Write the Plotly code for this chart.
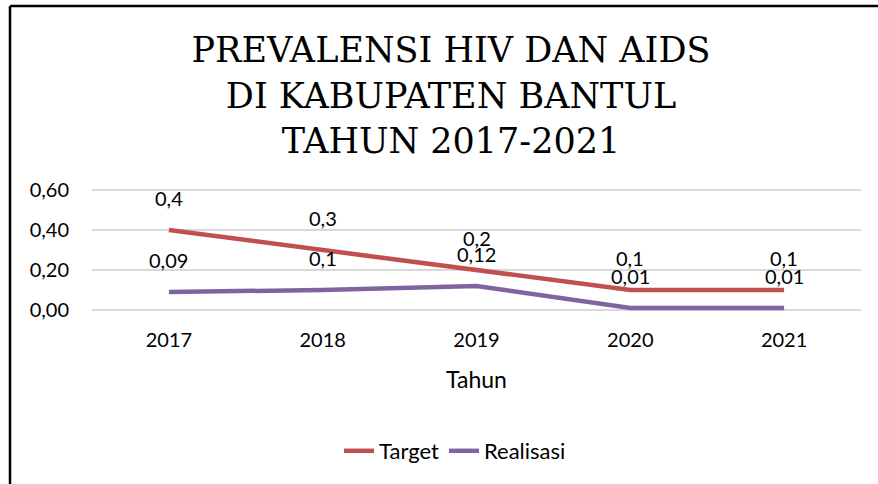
import plotly.graph_objects as go

years = ["2017", "2018", "2019", "2020", "2021"]
target = [0.4, 0.3, 0.2, 0.1, 0.1]
realisasi = [0.09, 0.1, 0.12, 0.01, 0.01]
target_labels = ["0,4", "0,3", "0,2", "0,1", "0,1"]
realisasi_labels = ["0,09", "0,1", "0,12", "0,01", "0,01"]
y_ticks = [0.0, 0.2, 0.4, 0.6]

RED = "#C0504D"
PURPLE = "#8064A2"
FONT = "Lato"

fig = go.Figure()
fig.add_trace(go.Scatter(x=years, y=target, mode="lines", name="Target",
                         line=dict(color=RED, width=4.5)))
fig.add_trace(go.Scatter(x=years, y=realisasi, mode="lines", name="Realisasi",
                         line=dict(color=PURPLE, width=4.5)))

annotations = []
for ys, labs in [(target, target_labels), (realisasi, realisasi_labels)]:
    for i, (y, t) in enumerate(zip(ys, labs)):
        # category axis: numeric x = category index
        annotations.append(dict(x=i, y=y, xref="x", yref="y", text=t, showarrow=False,
                                yshift=32, xanchor="center", yanchor="middle",
                                font=dict(family=FONT, size=20, color="black")))

fig.update_layout(
    width=878, height=484,
    margin=dict(l=92, r=17, t=188, b=172),
    paper_bgcolor="white", plot_bgcolor="white",
    separators=",.",
    title=dict(text="PREVALENSI HIV DAN AIDS<br>DI KABUPATEN BANTUL<br>TAHUN 2017-2021",
               x=451/878, xanchor="center", xref="container",
               y=1 - 62/484, yanchor="top", yref="container",
               font=dict(family="DejaVu Serif", size=35, color="black")),
    xaxis=dict(type="category", range=[-0.5, 4.5], showgrid=False, showline=False,
               ticks="", ticklabelstandoff=14,
               tickfont=dict(family=FONT, size=20, color="black"),
               title=dict(text="Tahun", font=dict(family=FONT, size=23, color="black"), standoff=21)),
    yaxis=dict(range=[-0.01, 0.61], tickvals=y_ticks, tickformat=".2f", showgrid=True,
               gridcolor="#D9D9D9", gridwidth=1.5, zeroline=False, showline=False,
               ticks="", ticklabelstandoff=22,
               tickfont=dict(family=FONT, size=20, color="black")),
    legend=dict(orientation="h", x=455/878, xref="container", xanchor="center",
                y=1 - 451/484, yref="container", yanchor="middle",
                font=dict(family=FONT, size=22, color="black")),
    annotations=annotations,
    showlegend=True,
)

# chart-area border (left and top edges), positioned relative to the plot area (92..861, 188..312 px)
fig.add_shape(type="line", xref="paper", yref="paper",
              x0=(10 - 92) / 769, x1=(10 - 92) / 769, y0=(312 - 6) / 124, y1=(312 - 490) / 124,
              line=dict(color="black", width=2.5))
fig.add_shape(type="line", xref="paper", yref="paper",
              x0=(10 - 92) / 769, x1=(890 - 92) / 769, y0=(312 - 6) / 124, y1=(312 - 6) / 124,
              line=dict(color="black", width=2.5))

fig.write_html("out.html", config={"displayModeBar": False},
               post_script="document.body.style.margin='0';")
